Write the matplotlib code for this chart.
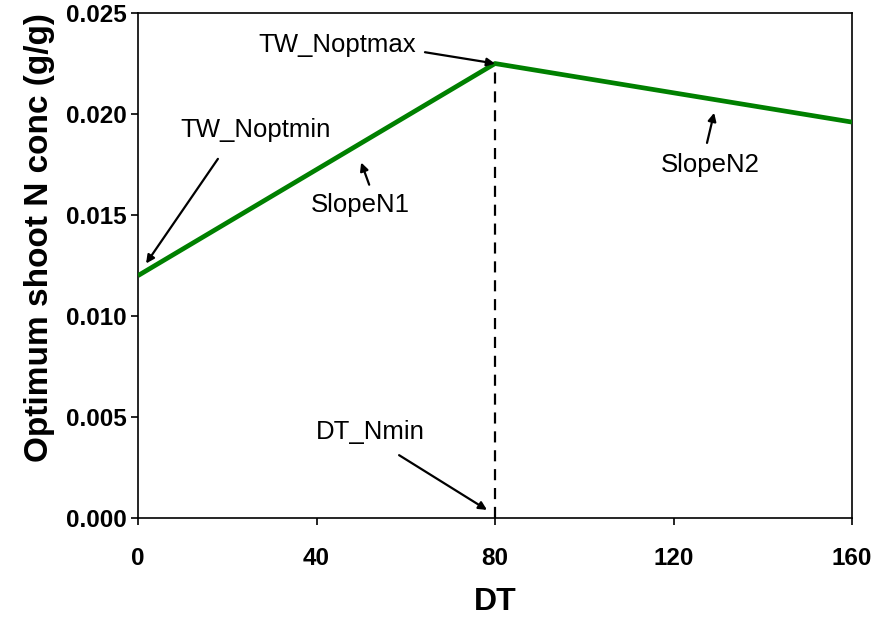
import matplotlib
matplotlib.use("Agg")
import matplotlib.pyplot as plt

# optimum shoot N concentration vs thermal time (DT)
dt = [0, 80, 160]
n_opt = [0.012, 0.0225, 0.0196]

dt_nmin = 80
tw_noptmax = 0.0225

x_ticks = [0, 40, 80, 120, 160]
y_ticks = [0.000, 0.005, 0.010, 0.015, 0.020, 0.025]

plt.rcParams['font.family'] = ['Liberation Sans', 'DejaVu Sans']

fig = plt.figure(figsize=(8.72, 6.21), dpi=100)
ax = fig.add_axes([0.1583, 0.1659, 0.8188, 0.8131])

ax.plot(dt, n_opt, color='#008000', linewidth=3.4, solid_capstyle='butt', zorder=3)
ax.plot([dt_nmin, dt_nmin], [0, tw_noptmax], color='black', linewidth=1.6,
        linestyle=(0, (5, 3.5)), zorder=2)

ax.set_xlim(0, 160)
ax.set_ylim(0, 0.025)
ax.set_xticks(x_ticks)
ax.set_xticklabels([str(v) for v in x_ticks])
ax.set_yticks(y_ticks)
ax.set_yticklabels(['%.3f' % v for v in y_ticks])

ax.tick_params(axis='both', direction='out', length=5, width=1.2)
ax.tick_params(axis='x', pad=16)
ax.tick_params(axis='y', pad=3)
for lab in ax.get_xticklabels() + ax.get_yticklabels():
    lab.set_fontsize(17.5)
    lab.set_fontweight('bold')
for sp in ax.spines.values():
    sp.set_linewidth(1.2)

ax.set_xlabel('DT', fontsize=23, fontweight='bold', labelpad=12)
ax.set_ylabel('Optimum shoot N conc (g/g)', fontsize=24, fontweight='bold')
ax.yaxis.set_label_coords(-0.116, 0.556)

arrow = dict(arrowstyle='-|>', color='black', lw=1.6, mutation_scale=12,
             shrinkA=0, shrinkB=0)
fs = 18.5

ax.text(27, 0.0234, 'TW_Noptmax', fontsize=fs, ha='left', va='center')
ax.annotate('', xy=(dt_nmin, tw_noptmax), xytext=(64.3, 0.02306), arrowprops=arrow)

ax.text(26.3, 0.01920, 'TW_Noptmin', fontsize=fs, ha='center', va='center')
ax.annotate('', xy=(1.8, 0.0126), xytext=(17.9, 0.01778), arrowprops=arrow)

ax.text(49.8, 0.01550, 'SlopeN1', fontsize=fs, ha='center', va='center')
ax.annotate('', xy=(50.0, 0.0176), xytext=(51.8, 0.01650), arrowprops=arrow)

ax.text(128.2, 0.01750, 'SlopeN2', fontsize=fs, ha='center', va='center')
ax.annotate('', xy=(129.1, 0.02006), xytext=(127.5, 0.01857), arrowprops=arrow)

ax.text(52.0, 0.00425, 'DT_Nmin', fontsize=fs, ha='center', va='center')
ax.annotate('', xy=(78.2, 0.0004), xytext=(58.5, 0.00311), arrowprops=arrow)

fig.savefig('out.png', dpi=100)
